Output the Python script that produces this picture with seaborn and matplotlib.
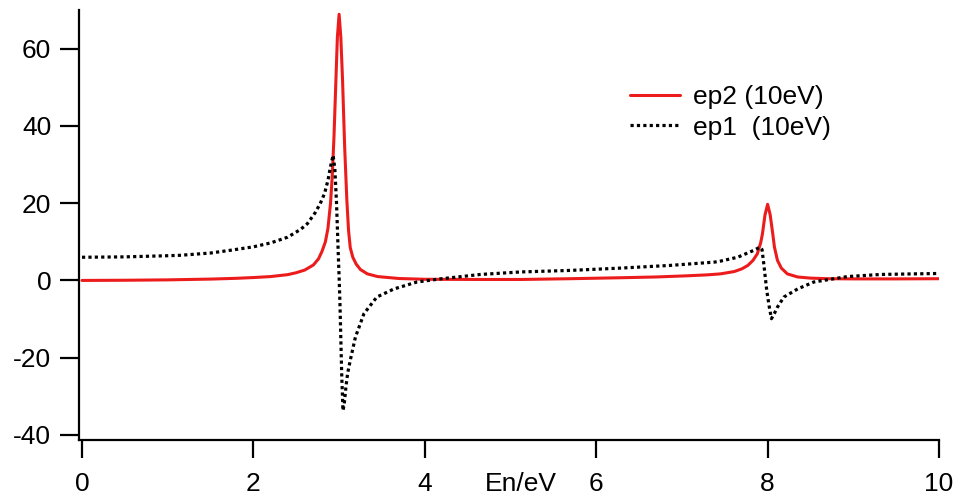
import matplotlib
matplotlib.use("Agg")
import matplotlib.pyplot as plt
import seaborn as sns
import pandas as pd

# ---- data ----
energy_ep2 = [0.0, 0.5, 1.0, 1.5, 1.8, 2.0, 2.2, 2.4, 2.5, 2.6, 2.7, 2.76, 2.80, 2.84,
              2.87, 2.90, 2.92, 2.94, 2.96, 2.98, 3.00, 3.02, 3.04, 3.065, 3.09, 3.11,
              3.13, 3.16, 3.20, 3.25, 3.33, 3.45, 3.7, 4.0, 4.65, 5.12, 5.7, 6.29, 6.7,
              7.06, 7.3, 7.45, 7.61, 7.70, 7.77, 7.83, 7.88, 7.92, 7.94, 7.97, 8.00,
              8.03, 8.06, 8.08, 8.115, 8.16, 8.23, 8.35, 8.5, 8.7, 9.0, 9.5, 10.0]
ep2_values = [0.0, 0.05, 0.15, 0.35, 0.55, 0.75, 1.0, 1.5, 2.0, 2.7, 4.0, 5.6, 7.5, 10.0,
              13.5, 20.0, 27.0, 37.0, 50.0, 63.0, 68.9, 63.0, 52.0, 34.5, 21.0, 13.0,
              8.5, 6.0, 4.2, 2.8, 1.7, 1.0, 0.5, 0.3, 0.25, 0.25, 0.45, 0.7, 0.9,
              1.2, 1.45, 1.7, 2.3, 3.0, 3.9, 5.2, 6.9, 9.8, 12.1, 17.0, 19.7,
              17.0, 12.1, 8.6, 5.2, 3.2, 1.7, 0.9, 0.6, 0.45, 0.4, 0.4, 0.45]

energy_ep1 = [0.0, 0.5, 1.0, 1.14, 1.5, 1.73, 2.0, 2.2, 2.4, 2.55, 2.63, 2.72, 2.78, 2.83,
              2.87, 2.90, 2.93, 2.95, 2.97, 2.99, 3.00, 3.01, 3.02, 3.03, 3.045, 3.06,
              3.08, 3.10, 3.13, 3.19, 3.29, 3.44, 3.64, 3.91, 4.18, 4.65, 5.12, 5.70,
              6.29, 6.87, 7.38, 7.45, 7.65, 7.84, 7.91, 7.935, 7.96, 7.99, 8.02, 8.045,
              8.08, 8.115, 8.19, 8.35, 8.54, 8.93, 9.32, 9.71, 10.0]
ep1_values = [6.0, 6.1, 6.4, 6.5, 7.1, 7.8, 8.7, 9.7, 11.2, 13.2, 14.7, 17.5, 19.9, 22.5,
              25.9, 29.5, 32.4, 29.0, 20.0, 7.0, 1.0, -6.0, -15.0, -24.0, -33.7, -32.0,
              -27.5, -24.0, -20.7, -14.7, -8.6, -4.3, -2.2, -0.4, 0.4, 1.55, 2.2, 2.6,
              3.2, 3.9, 4.75, 5.0, 6.0, 7.8, 8.6, 8.0, 3.4, -2.6, -6.9, -9.9,
              -8.5, -6.9, -4.3, -2.2, -0.4, 1.0, 1.55, 1.7, 1.8]

label_ep2 = "ep2 (10eV)"
label_ep1 = "ep1  (10eV)"
x_ticks = [0, 2, 4, 6, 8, 10]
y_ticks = [-40, -20, 0, 20, 40, 60]

# ---- style ----
sns.set_style("ticks")
plt.rcParams["font.family"] = ["Liberation Sans", "DejaVu Sans"]
plt.rcParams["axes.unicode_minus"] = False
plt.rcParams["text.color"] = "black"
plt.rcParams["axes.labelcolor"] = "black"

df2 = pd.DataFrame({"E": energy_ep2, "v": ep2_values})
df1 = pd.DataFrame({"E": energy_ep1, "v": ep1_values})

fig = plt.figure(figsize=(9.57, 4.97), dpi=100)
ax = fig.add_axes([79 / 957, 1 - 440 / 497, (939 - 79) / 957, (440 - 10) / 497])

sns.lineplot(data=df2, x="E", y="v", ax=ax, color="#ec1c1c", linewidth=2.2,
             label=label_ep2, estimator=None)
sns.lineplot(data=df1, x="E", y="v", ax=ax, color="black", linewidth=2.3,
             linestyle=(0, (1.0, 1.0)), label=label_ep1, estimator=None,
             dash_capstyle="butt")

ax.set_xlim(-0.035, 10)
ax.set_ylim(-41.3, 70)
ax.set_xticks(x_ticks)
ax.set_yticks(y_ticks)
ax.set_xticklabels([str(t) for t in x_ticks])
ax.set_yticklabels([str(t) for t in y_ticks])

for s in ["top", "right"]:
    ax.spines[s].set_visible(False)
for s in ["left", "bottom"]:
    ax.spines[s].set_linewidth(1.6)
    ax.spines[s].set_color("black")

ax.tick_params(axis="y", direction="out", length=14, width=1.6, pad=6,
               labelsize=19, colors="black")
ax.tick_params(axis="x", direction="out", length=13, width=1.6, pad=10,
               labelsize=19, colors="black")

ax.set_ylabel("")
ax.set_xlabel("En/eV", fontsize=19, color="black")
ax.xaxis.set_label_coords(0.514, -0.074)

leg = ax.legend(loc="upper left", bbox_to_anchor=(630 / 957, 1 - 85 / 497),
                bbox_transform=fig.transFigure, frameon=False, fontsize=19,
                handlelength=1.9, handletextpad=0.5, labelspacing=0.25,
                borderpad=0, borderaxespad=0)
for t in leg.get_texts():
    t.set_color("black")

fig.savefig("out.png", dpi=100, facecolor="white")
